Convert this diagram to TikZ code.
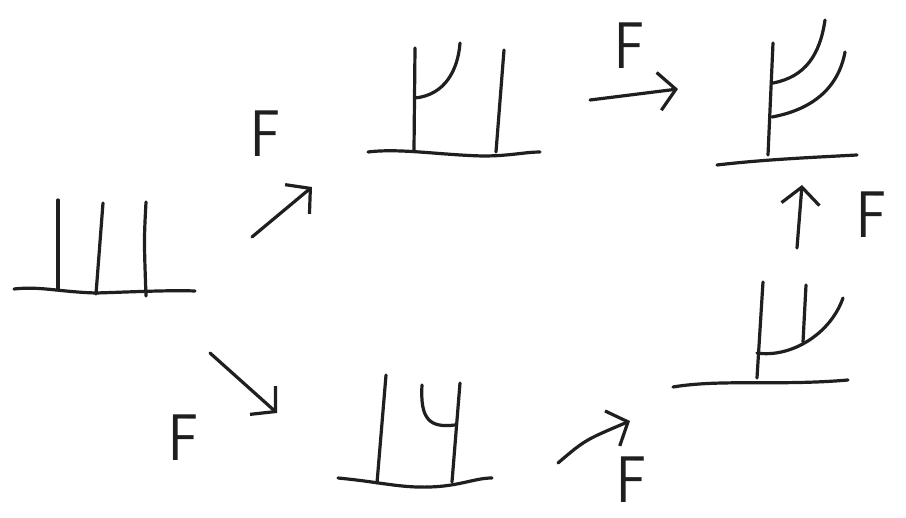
\documentclass[tikz,border=0pt]{standalone}
\usetikzlibrary{arrows.meta}
\begin{document}
\begin{tikzpicture}[x=1pt,y=-1pt,
  ink/.style={line width=3.2pt, line cap=round, line join=round, draw=black!88},
  conn/.style={ink, -{Straight Barb[length=17pt,width=38pt,line width=3.2pt]}},
  lbl/.style={font=\sffamily\fontsize{66}{66}\selectfont, inner sep=0pt, text=black!88, xscale=0.85}]
\useasboundingbox (0,0) rectangle (906,518);
\fill[white] (0,0) rectangle (906,518);

% stage 1 (left)
\draw[ink] (14,289) .. controls (40,286) and (60,292) .. (96,293) .. controls (130,292) and (170,290) .. (195,291);
\draw[ink] (58,200) -- (58,289);
\draw[ink] (103,203) -- (96,294);
\draw[ink] (146,202) .. controls (144,240) .. (146,296);

% stage 2 (top middle)
\draw[ink] (368,152) .. controls (400,148) and (440,155) .. (483,156) .. controls (510,156) and (525,152) .. (540,152);
\draw[ink] (415,48) -- (414,150);
\draw[ink] (415,98) .. controls (445,95) and (458,70) .. (460,43);
\draw[ink] (504,50) -- (496,152);

% stage 3 (top right)
\draw[ink] (717,165) .. controls (760,160) and (800,158) .. (857,155);
\draw[ink] (773,43) -- (768,155);
\draw[ink] (773,83) .. controls (805,77) and (820,55) .. (825,20);
\draw[ink] (772,117) .. controls (810,110) and (838,90) .. (845,52);

% stage 4 (bottom right)
\draw[ink] (673,387) .. controls (720,379) and (780,386) .. (848,380);
\draw[ink] (763,282) -- (757,378);
\draw[ink] (806,285) -- (803,342);
\draw[ink] (757,353) .. controls (790,358) and (830,335) .. (843,298);

% stage 5 (bottom middle)
\draw[ink] (338,478) .. controls (380,482) and (400,488) .. (430,487) .. controls (460,486) and (475,478) .. (492,478);
\draw[ink] (386,375) -- (377,483);
\draw[ink] (460,383) -- (452,482);
\draw[ink] (422,385) .. controls (420,420) and (430,428) .. (455,425);

% arrows
\coordinate (a1s) at (252,237); \coordinate (a1e) at (312,187);
\coordinate (a2s) at (210,353); \coordinate (a2e) at (277,413);
\coordinate (a3s) at (558,463); \coordinate (a3e) at (630,421);
\coordinate (a4s) at (797,248); \coordinate (a4e) at (802,185);
\coordinate (a5s) at (590,100); \coordinate (a5e) at (678,89);
\draw[conn] (a1s) -- (a1e);
\draw[conn] (a2s) -- (a2e);
\draw[conn] (a3s) .. controls (585,440) .. (a3e);
\draw[conn] (a4s) -- (a4e);
\draw[conn] (a5s) -- (a5e);

% labels
\node[lbl] (f1) at (266,134) {F};
\node[lbl] (f2) at (184,438) {F};
\node[lbl] (f3) at (632,480) {F};
\node[lbl] (f4) at (872,215) {F};
\node[lbl] (f5) at (630,46) {F};
\end{tikzpicture}
\end{document}
